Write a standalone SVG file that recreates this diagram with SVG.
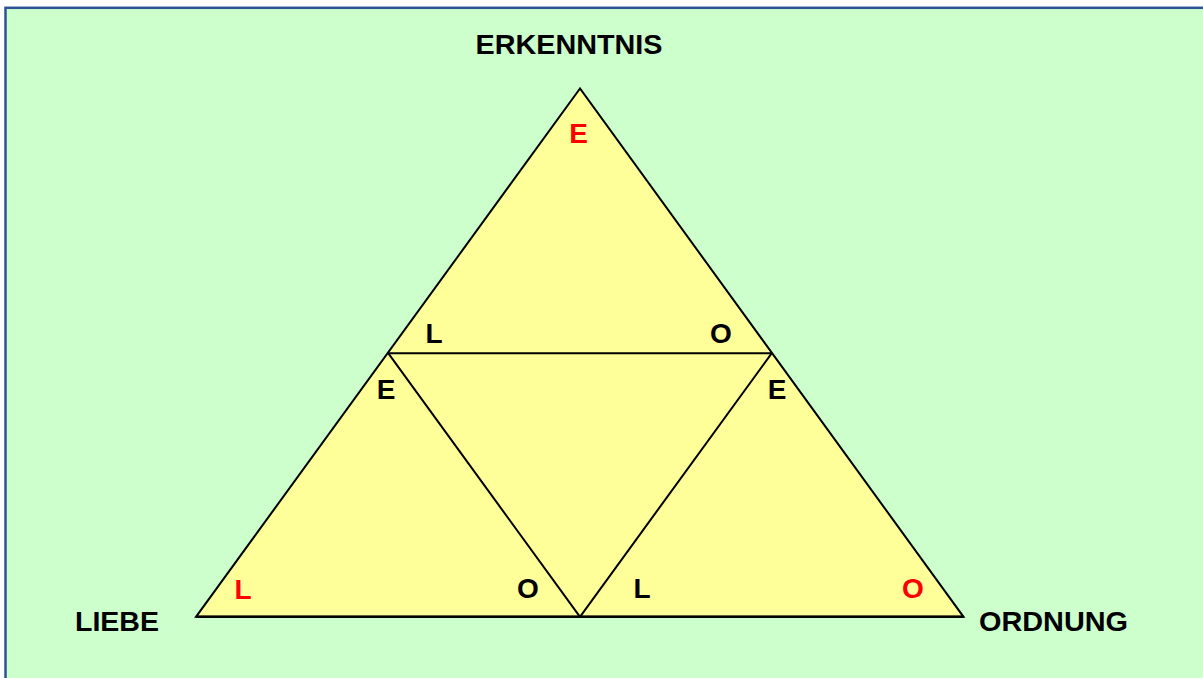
<svg xmlns="http://www.w3.org/2000/svg" width="1203" height="678" viewBox="0 0 1203 678">
  <style>
    .lbl { font-family: "Liberation Sans", Arial, sans-serif; font-weight: bold; font-size: 28px; fill: #000; text-anchor: middle; }
    .red { fill: #FF0000; }
    .edge { stroke: #000; stroke-width: 2; fill: none; stroke-linejoin: miter; }
  </style>
  <rect x="0" y="0" width="1203" height="678" fill="#FFFFFF"/>
  <rect id="frame" x="5.5" y="7.8" width="1210" height="690" fill="#CCFFCC" stroke="#2E5395" stroke-width="2.5"/>
  <g id="triangle">
    <polygon points="580,88.5 196,616.8 963.5,616.8" fill="#FFFF99" stroke="#000" stroke-width="2"/>
  </g>
  <g id="connectors">
    <line class="edge" x1="388.2" y1="353.2" x2="771.8" y2="353.2"/>
    <line class="edge" x1="388.2" y1="353.2" x2="580" y2="616.8"/>
    <line class="edge" x1="771.8" y1="353.2" x2="580" y2="616.8"/>
    <line x1="196" y1="616.8" x2="963.5" y2="616.8" stroke="#000" stroke-width="2.5"/>
  </g>
  <g id="node-erkenntnis"><text class="lbl" x="569" y="54" font-size="26" textLength="187" lengthAdjust="spacingAndGlyphs">ERKENNTNIS</text></g>
  <g id="node-liebe"><text class="lbl" x="117" y="631" textLength="84" lengthAdjust="spacingAndGlyphs">LIEBE</text></g>
  <g id="node-ordnung"><text class="lbl" x="1053.5" y="631" textLength="149" lengthAdjust="spacingAndGlyphs">ORDNUNG</text></g>
  <g id="top-triangle">
    <text class="lbl red" x="578.5" y="143">E</text>
    <text class="lbl" x="434" y="343">L</text>
    <text class="lbl" x="721" y="343">O</text>
  </g>
  <g id="left-triangle">
    <text class="lbl" x="386" y="399">E</text>
    <text class="lbl red" x="243" y="599">L</text>
    <text class="lbl" x="528" y="598">O</text>
  </g>
  <g id="right-triangle">
    <text class="lbl" x="777" y="399">E</text>
    <text class="lbl" x="642" y="598">L</text>
    <text class="lbl red" x="913" y="598">O</text>
  </g>
</svg>
